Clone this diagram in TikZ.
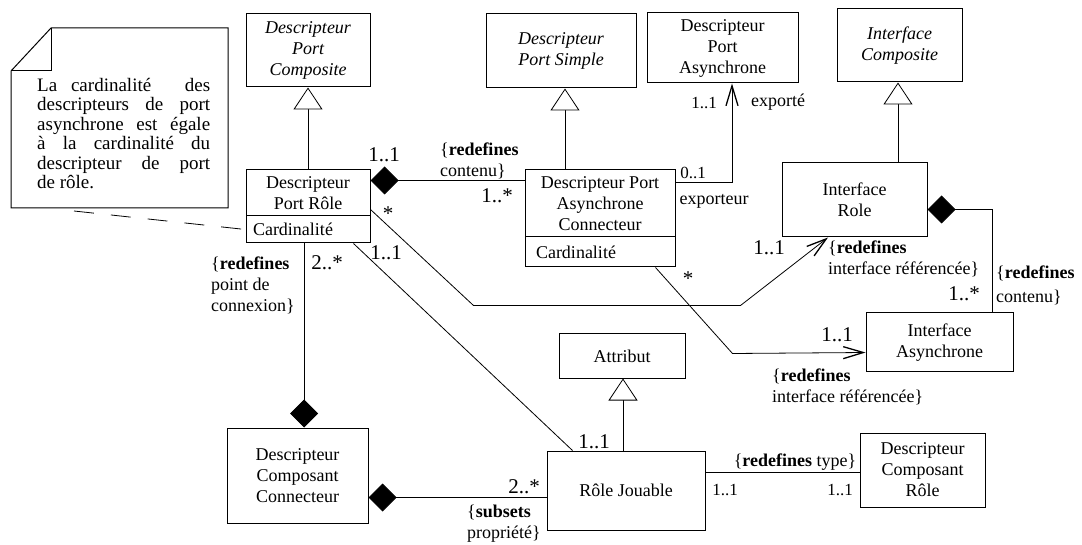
\documentclass[tikz,border=0pt]{standalone}
\usepackage{fontspec}
\setmainfont{Liberation Serif}
\usetikzlibrary{arrows.meta}

\begin{document}
\begin{tikzpicture}[x=1pt,y=-1pt,
  cls/.style={draw, line width=1pt, inner sep=0pt, align=center,
    font=\fontsize{18}{21}\selectfont},
  abstract/.style={cls, font=\fontsize{18}{21}\selectfont\itshape},
  attrs/.style={draw, line width=1pt, inner ysep=0pt, align=left,
    font=\fontsize{18}{21}\selectfont},
  lbl/.style={inner sep=0pt, font=\fontsize{18}{21}\selectfont},
  lblleft/.style={lbl, align=left, anchor=west},
  big/.style={inner sep=0pt, font=\fontsize{21}{24}\selectfont},
  small/.style={inner sep=0pt, font=\fontsize{17}{20}\selectfont},
  assoc/.style={line width=0.8pt},
  gen/.style={line width=0.8pt, -{Triangle[open, length=22pt, width=29pt, line width=0.8pt, fill=white]}},
  comp/.style={line width=0.8pt, {Diamond[length=28pt, width=28pt]}-},
  compend/.style={line width=0.8pt, -{Diamond[length=28pt, width=28pt]}},
  nav/.style={line width=0.8pt, -{Straight Barb[length=20pt, width=12pt, line width=1.3pt]}},
]
\useasboundingbox (0,0) rectangle (1082,545);

% ---- classes ----
\node[abstract, minimum width=124pt, minimum height=73pt] (dpc) at (308,50.5)
  {Descripteur\\Port\\Composite};
\node[cls, minimum width=124pt, minimum height=46pt] (dpr) at (308,193)
  {Descripteur\\Port Rôle};
\node[attrs, text width=110pt, inner xsep=7pt, minimum height=27pt] (dprc) at (308,229.5)
  {Cardinalité};

\node[abstract, minimum width=150pt, minimum height=74pt] (dps) at (561,51)
  {Descripteur\\Port Simple};
\node[cls, minimum width=150pt, minimum height=67pt] (dpac) at (600,203.5)
  {Descripteur Port\\Asynchrone\\Connecteur};
\node[attrs, text width=128pt, inner xsep=11pt, minimum height=30pt] (dpacc) at (600,252)
  {Cardinalité};

\node[cls, minimum width=151pt, minimum height=70pt] (dpa) at (722.5,48)
  {Descripteur\\Port\\Asynchrone};
\node[abstract, minimum width=125pt, minimum height=73pt] (ic) at (899.5,45.5)
  {Interface\\Composite};
\node[cls, minimum width=145pt, minimum height=74pt] (ir) at (854.5,200)
  {Interface\\Role};
\node[cls, minimum width=147pt, minimum height=59pt] (ia) at (939.5,342.5)
  {Interface\\Asynchrone};
\node[cls, minimum width=126pt, minimum height=44pt] (attr) at (622,356)
  {Attribut};
\node[cls, minimum width=158pt, minimum height=79pt] (rj) at (626,490.5)
  {Rôle Jouable};
\node[cls, minimum width=141pt, minimum height=95pt] (dcc) at (297.5,475.5)
  {Descripteur\\Composant\\Connecteur};
\node[cls, minimum width=125pt, minimum height=74pt] (dcr) at (922.5,470)
  {Descripteur\\Composant\\Rôle};

% ---- note with folded corner ----
\draw[line width=1pt] (11,71) -- (51,28) -- (228,28) -- (228,208) -- (11,208) -- cycle;
\draw[line width=1pt] (11,71) -- (51,71) -- (51,28);
\node[inner sep=0pt, anchor=north west, font=\fontsize{19}{19.5}\selectfont] (note) at (37,78)
  {\parbox{173pt}{%
    \makebox[173pt][s]{La cardinalité \hspace{6pt} des}\\
    \makebox[173pt][s]{descripteurs de port}\\
    \makebox[173pt][s]{asynchrone est égale}\\
    \makebox[173pt][s]{à la cardinalité du}\\
    \makebox[173pt][s]{descripteur de port}\\
    de rôle.}};
\coordinate (notefoot) at (74,211);
\draw[line width=0.8pt, dash pattern=on 20pt off 17pt] (notefoot) -- (dprc.west);

% ---- generalisations ----
\draw[gen] (dpr.north) -- (dpc.south);
\draw[gen] ([xshift=-35pt]dpac.north) -- ([xshift=4pt]dps.south);
\draw[gen] ([xshift=43.5pt]ir.north) -- ([xshift=-1.5pt]ic.south);
\draw[gen] ([xshift=-3pt]rj.north) -- ([xshift=1pt]attr.south);

% ---- compositions ----
\draw[comp] ([yshift=-11pt]dpr.north east) -- ([yshift=-11pt]dpac.north west);
\draw[compend] ([xshift=-4pt]dprc.south) -- ([xshift=6.5pt]dcc.north);
\draw[comp] ([yshift=-70pt]dcc.north east) -- ([yshift=-47pt]rj.north west);
\draw[comp] ([yshift=-47pt]ir.north east) -| ([xshift=-21pt]ia.north east);

% ---- associations ----
\draw[nav] ([yshift=-13pt]dpac.north east) -| ([xshift=9.5pt]dpa.south);
\draw[nav] ([yshift=-40pt]dpr.north east) -- ++(103,96) -- ++(267,0) -- ([xshift=-26.5pt]ir.south);
\draw[nav] ([xshift=-20pt]dpacc.south east) -- ++(77,86) -- ([yshift=-40pt]ia.north west);
\draw[assoc] ([xshift=-17pt]dprc.south east) -- ([xshift=26pt]rj.north west);
\draw[assoc] ([yshift=-22pt]rj.north east) -- ([yshift=-40pt]dcr.north west);

% ---- role names and multiplicities ----
\node[big] at (384,155) {1..1};
\node[lblleft] at (440,161) {\{\textbf{redefines}\\contenu\}};
\node[big] at (497,196) {1..*};
\node[small] at (693,173) {0..1};
\node[lbl] at (714,201) {exporteur};
\node[small] at (704,103) {1..1};
\node[lbl] at (778,102) {exporté};
\node[big] at (388,214) {*};
\node[big] at (386,253) {1..1};
\node[lblleft] at (211,285) {\{\textbf{redefines}\\point de\\connexion\}};
\node[big] at (327,263) {2..*};
\node[big] at (594,442) {1..1};
\node[big] at (524,487) {2..*};
\node[lblleft] at (467,524) {\{\textbf{subsets}\\propriété\}};
\node[big] at (769,248) {1..1};
\node[lblleft] at (828,259) {\{\textbf{redefines}\\interface référencée\}};
\node[lblleft, font=\fontsize{18}{24}\selectfont] at (996,285) {\{\textbf{redefines}\\contenu\}};
\node[big] at (964,294) {1..*};
\node[big] at (837,335) {1..1};
\node[lblleft] at (772,387) {\{\textbf{redefines}\\interface référencée\}};
\node[big] at (688,279) {*};
\node[lbl] at (795,462) {\{\textbf{redefines} type\}};
\node[small] at (725,490) {1..1};
\node[small] at (840,490) {1..1};
\end{tikzpicture}
\end{document}
